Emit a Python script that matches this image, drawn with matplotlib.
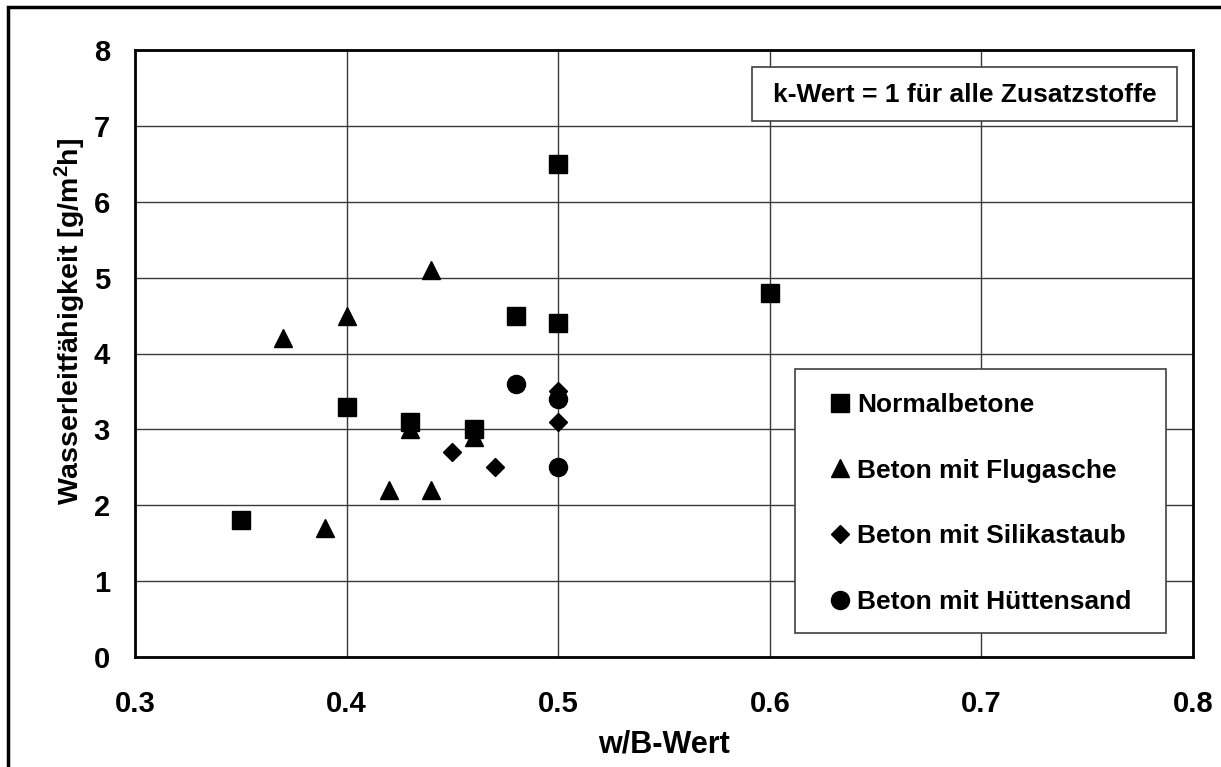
import matplotlib
matplotlib.use("Agg")
import matplotlib.pyplot as plt
from matplotlib.patches import Rectangle

plt.rcParams["font.family"] = ["Liberation Sans", "DejaVu Sans"]
plt.rcParams["font.weight"] = "bold"
plt.rcParams["mathtext.fontset"] = "custom"
plt.rcParams["mathtext.rm"] = "Liberation Sans:bold"
plt.rcParams["mathtext.bf"] = "Liberation Sans:bold"
plt.rcParams["mathtext.default"] = "bf"

# w/B-Wert and Wasserleitfähigkeit per concrete group
normal_wb = [0.35, 0.40, 0.43, 0.46, 0.48, 0.50, 0.50, 0.60]
normal_wl = [1.8, 3.3, 3.1, 3.0, 4.5, 4.4, 6.5, 4.8]

flugasche_wb = [0.37, 0.39, 0.40, 0.42, 0.43, 0.44, 0.44, 0.46]
flugasche_wl = [4.2, 1.7, 4.5, 2.2, 3.0, 5.1, 2.2, 2.9]

silika_wb = [0.45, 0.47, 0.50, 0.50]
silika_wl = [2.7, 2.5, 3.5, 3.1]

huetten_wb = [0.48, 0.50, 0.50]
huetten_wl = [3.6, 3.4, 2.5]

series_labels = ["Normalbetone", "Beton mit Flugasche",
                 "Beton mit Silikastaub", "Beton mit Hüttensand"]
x_ticks = [0.3, 0.4, 0.5, 0.6, 0.7, 0.8]
y_ticks = [0, 1, 2, 3, 4, 5, 6, 7, 8]

W, H = 1221, 767
fig = plt.figure(figsize=(W / 100, H / 100), dpi=100)
ax = fig.add_axes([135 / W, 1 - 657 / H, (1193 - 135) / W, (657 - 50) / H])

ax.plot(normal_wb, normal_wl, ls="none", marker="s", ms=13, color="black",
        label=series_labels[0], zorder=3)
ax.plot(flugasche_wb, flugasche_wl, ls="none", marker="^", ms=13, color="black",
        label=series_labels[1], zorder=3)
ax.plot(silika_wb, silika_wl, ls="none", marker="D", ms=9, color="black",
        label=series_labels[2], zorder=3)
ax.plot(huetten_wb, huetten_wl, ls="none", marker="o", ms=13, color="black",
        label=series_labels[3], zorder=3)

ax.set_xlim(0.3, 0.8)
ax.set_ylim(0, 8)
ax.set_xticks(x_ticks)
ax.set_yticks(y_ticks)
ax.set_xticklabels([f"{v:.1f}" for v in x_ticks])
ax.set_yticklabels([str(v) for v in y_ticks])
ax.tick_params(axis="both", length=0, labelsize=21)
ax.tick_params(axis="x", pad=24)
ax.tick_params(axis="y", pad=18)

ax.grid(True, color="#3a3a3a", lw=1.0)
ax.set_axisbelow(True)
for s in ax.spines.values():
    s.set_linewidth(2)
    s.set_color("black")

ax.set_xlabel("w/B-Wert", fontsize=22, fontweight="bold", labelpad=8)
ax.set_ylabel(r"Wasserleitfähigkeit [g/m$^{2}$h]", fontsize=20.5,
              fontweight="bold")
ax.yaxis.set_label_coords((88 - 135) / 1058, (657 - 321) / 607)

# note box in the upper right
ax.add_patch(Rectangle((752 / W, 1 - 121 / H), (1177 - 752) / W,
                       (121 - 67) / H, transform=fig.transFigure,
                       facecolor="white", edgecolor="#404040", lw=1.2,
                       zorder=2.5, clip_on=False))
ax.text(964.5 / W, 1 - 95 / H, "k-Wert = 1 für alle Zusatzstoffe",
        transform=fig.transFigure, ha="center", va="center", fontsize=19,
        fontweight="bold", zorder=5)

# legend entries, with the frame drawn separately
ax.add_patch(Rectangle((795 / W, 1 - 633 / H), (1166 - 795) / W,
                       (633 - 369) / H, transform=fig.transFigure,
                       facecolor="white", edgecolor="#404040", lw=1.2,
                       zorder=2.5, clip_on=False))
leg = ax.legend(loc="upper left",
                bbox_to_anchor=((831 - 135) / 1058, (657 - 393) / 607),
                fontsize=19, frameon=False, borderpad=0, labelspacing=1.58,
                handlelength=0.7, handletextpad=0.3, borderaxespad=0)
leg.set_zorder(6)

# outer frame around the figure
fig.patches.append(Rectangle((8 / W, -0.1), 1.2, (1 - 7 / H) + 0.1,
                             transform=fig.transFigure, fill=False,
                             edgecolor="black", lw=2.5))

fig.savefig("out.png", dpi=100)
